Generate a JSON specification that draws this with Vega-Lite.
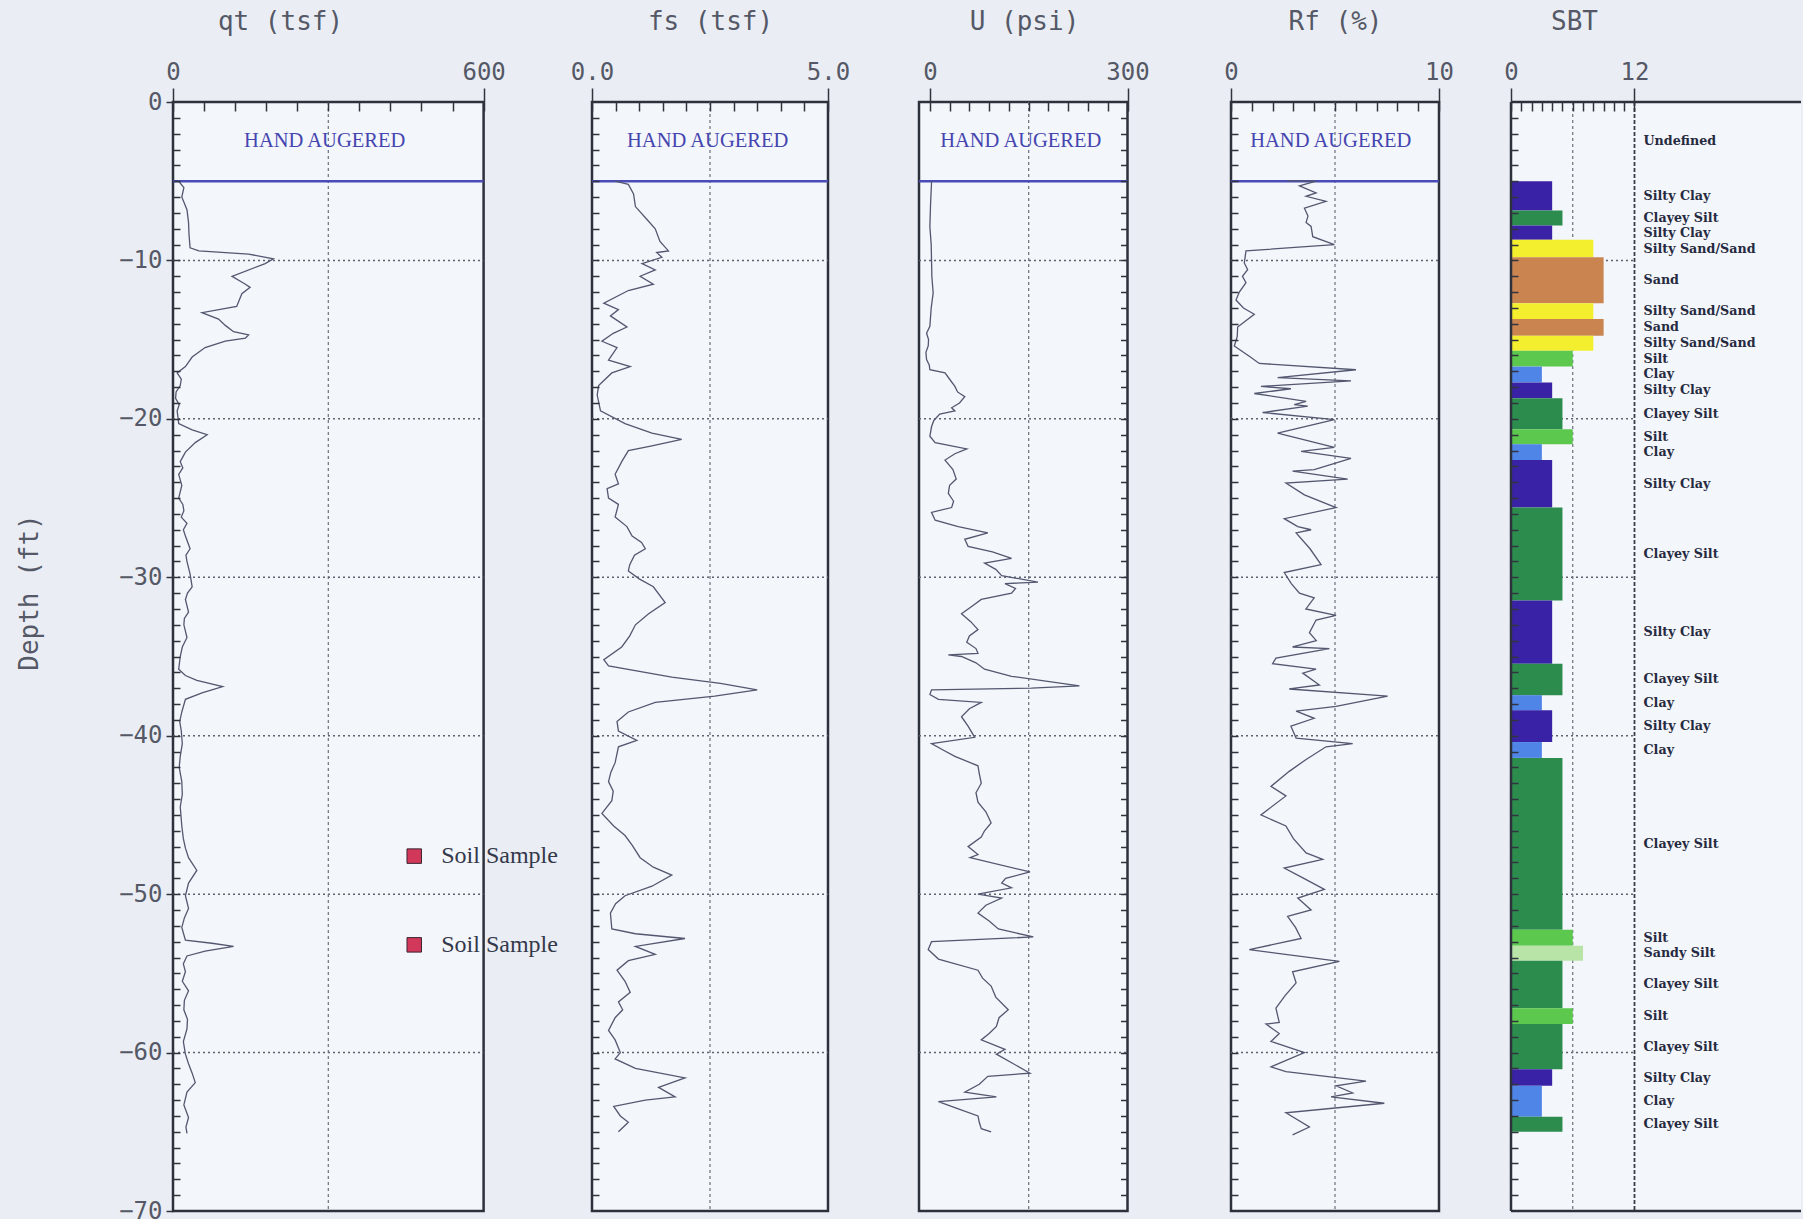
{
"$schema": "https://vega.github.io/schema/vega-lite/v6.json",
"background": "#eaeef4",
"padding": {"left": 16, "top": 8, "right": 0, "bottom": -4},
"datasets": {
"grid": [{"d": -10}, {"d": -20}, {"d": -30}, {"d": -40}, {"d": -50}, {"d": -60}],
"samples": [{"v": 466, "d": -47.6, "label": "Soil Sample"}, {"v": 466, "d": -53.2, "label": "Soil Sample"}],
"qt": [{"d":-5.0,"v":11},{"d":-5.4,"v":21},{"d":-6.0,"v":17},{"d":-6.8,"v":27},{"d":-7.6,"v":30},{"d":-8.4,"v":31},{"d":-9.2,"v":33},{"d":-9.4,"v":50},{"d":-9.6,"v":146},{"d":-9.9,"v":194},{"d":-10.2,"v":178},{"d":-11.0,"v":114},{"d":-11.5,"v":140},{"d":-11.7,"v":149},{"d":-12.1,"v":133},{"d":-12.9,"v":123},{"d":-13.3,"v":56},{"d":-13.7,"v":88},{"d":-14.1,"v":101},{"d":-14.5,"v":117},{"d":-14.7,"v":146},{"d":-14.9,"v":140},{"d":-15.1,"v":101},{"d":-15.5,"v":62},{"d":-16.1,"v":37},{"d":-16.7,"v":24},{"d":-17.1,"v":8},{"d":-17.5,"v":16},{"d":-17.9,"v":14},{"d":-18.3,"v":6},{"d":-18.7,"v":5},{"d":-19.1,"v":12},{"d":-19.5,"v":8},{"d":-20.3,"v":11},{"d":-20.7,"v":37},{"d":-21.0,"v":66},{"d":-21.5,"v":43},{"d":-22.1,"v":24},{"d":-22.7,"v":14},{"d":-23.1,"v":19},{"d":-23.5,"v":11},{"d":-24.2,"v":17},{"d":-25.0,"v":11},{"d":-25.4,"v":19},{"d":-25.8,"v":21},{"d":-26.2,"v":16},{"d":-26.6,"v":27},{"d":-27.0,"v":20},{"d":-27.4,"v":24},{"d":-28.2,"v":33},{"d":-28.6,"v":25},{"d":-29.0,"v":27},{"d":-29.8,"v":33},{"d":-30.6,"v":37},{"d":-31.0,"v":28},{"d":-31.4,"v":24},{"d":-32.2,"v":30},{"d":-32.6,"v":22},{"d":-33.0,"v":21},{"d":-33.8,"v":27},{"d":-34.4,"v":18},{"d":-35.0,"v":14},{"d":-35.8,"v":11},{"d":-36.2,"v":24},{"d":-36.5,"v":46},{"d":-36.9,"v":96},{"d":-37.3,"v":56},{"d":-37.7,"v":24},{"d":-38.5,"v":17},{"d":-39.1,"v":13},{"d":-39.7,"v":16},{"d":-40.5,"v":18},{"d":-41.3,"v":14},{"d":-42.0,"v":12},{"d":-42.9,"v":17},{"d":-43.7,"v":18},{"d":-44.5,"v":14},{"d":-45.7,"v":17},{"d":-46.5,"v":20},{"d":-47.1,"v":24},{"d":-47.7,"v":30},{"d":-48.5,"v":46},{"d":-49.3,"v":30},{"d":-50.1,"v":24},{"d":-50.9,"v":30},{"d":-51.5,"v":22},{"d":-52.1,"v":17},{"d":-52.9,"v":24},{"d":-53.1,"v":75},{"d":-53.3,"v":117},{"d":-53.6,"v":62},{"d":-53.9,"v":27},{"d":-54.4,"v":20},{"d":-54.9,"v":24},{"d":-55.5,"v":18},{"d":-56.1,"v":30},{"d":-56.7,"v":22},{"d":-57.3,"v":21},{"d":-57.9,"v":28},{"d":-58.5,"v":27},{"d":-59.3,"v":20},{"d":-60.1,"v":24},{"d":-60.7,"v":30},{"d":-61.3,"v":37},{"d":-61.9,"v":43},{"d":-62.5,"v":27},{"d":-63.3,"v":21},{"d":-64.1,"v":30},{"d":-64.7,"v":25},{"d":-65.1,"v":27}],
"fs": [{"d":-5.0,"v":0.49},{"d":-5.2,"v":0.77},{"d":-5.8,"v":0.88},{"d":-6.6,"v":0.92},{"d":-7.4,"v":1.16},{"d":-8.0,"v":1.34},{"d":-8.8,"v":1.44},{"d":-9.4,"v":1.62},{"d":-9.5,"v":1.37},{"d":-9.8,"v":1.48},{"d":-10.2,"v":1.06},{"d":-10.6,"v":1.34},{"d":-11.0,"v":1.02},{"d":-11.5,"v":1.30},{"d":-11.9,"v":0.77},{"d":-12.7,"v":0.25},{"d":-13.1,"v":0.56},{"d":-13.5,"v":0.39},{"d":-14.2,"v":0.74},{"d":-14.6,"v":0.45},{"d":-15.1,"v":0.21},{"d":-15.5,"v":0.53},{"d":-16.3,"v":0.35},{"d":-16.7,"v":0.81},{"d":-17.1,"v":0.42},{"d":-17.9,"v":0.14},{"d":-18.5,"v":0.11},{"d":-19.5,"v":0.18},{"d":-20.3,"v":0.70},{"d":-20.9,"v":1.27},{"d":-21.3,"v":1.90},{"d":-21.7,"v":1.27},{"d":-22.0,"v":0.77},{"d":-22.7,"v":0.63},{"d":-23.5,"v":0.49},{"d":-24.1,"v":0.56},{"d":-24.4,"v":0.32},{"d":-25.0,"v":0.35},{"d":-25.4,"v":0.56},{"d":-26.2,"v":0.49},{"d":-26.8,"v":0.74},{"d":-27.4,"v":0.85},{"d":-27.8,"v":1.05},{"d":-28.2,"v":1.13},{"d":-28.6,"v":0.90},{"d":-29.2,"v":0.80},{"d":-29.6,"v":0.77},{"d":-30.1,"v":1.00},{"d":-30.6,"v":1.30},{"d":-31.6,"v":1.55},{"d":-32.3,"v":1.20},{"d":-33.0,"v":0.92},{"d":-33.7,"v":0.80},{"d":-34.4,"v":0.63},{"d":-35.2,"v":0.25},{"d":-35.6,"v":0.35},{"d":-36.3,"v":1.69},{"d":-36.7,"v":2.72},{"d":-37.1,"v":3.50},{"d":-37.5,"v":2.60},{"d":-37.9,"v":1.34},{"d":-38.5,"v":0.77},{"d":-39.1,"v":0.53},{"d":-39.7,"v":0.56},{"d":-40.3,"v":0.95},{"d":-40.7,"v":0.56},{"d":-41.7,"v":0.49},{"d":-42.3,"v":0.40},{"d":-42.9,"v":0.35},{"d":-43.5,"v":0.45},{"d":-44.1,"v":0.42},{"d":-44.9,"v":0.21},{"d":-45.7,"v":0.46},{"d":-46.3,"v":0.70},{"d":-46.9,"v":0.85},{"d":-47.7,"v":1.02},{"d":-48.3,"v":1.30},{"d":-48.8,"v":1.69},{"d":-49.5,"v":1.27},{"d":-50.1,"v":0.70},{"d":-50.6,"v":0.50},{"d":-51.2,"v":0.39},{"d":-52.2,"v":0.42},{"d":-52.5,"v":0.92},{"d":-52.8,"v":1.97},{"d":-53.3,"v":0.92},{"d":-53.8,"v":1.34},{"d":-54.2,"v":0.77},{"d":-54.8,"v":0.53},{"d":-55.5,"v":0.70},{"d":-56.2,"v":0.81},{"d":-56.8,"v":0.56},{"d":-57.3,"v":0.65},{"d":-57.8,"v":0.49},{"d":-58.6,"v":0.35},{"d":-59.2,"v":0.49},{"d":-60.0,"v":0.60},{"d":-60.4,"v":0.49},{"d":-61.0,"v":0.92},{"d":-61.6,"v":1.97},{"d":-62.2,"v":1.41},{"d":-62.8,"v":1.76},{"d":-63.0,"v":1.13},{"d":-63.4,"v":0.46},{"d":-64.0,"v":0.60},{"d":-64.4,"v":0.77},{"d":-65.0,"v":0.56}],
"u": [{"d":-5.0,"v":2},{"d":-5.1,"v":2.5},{"d":-6.5,"v":1},{"d":-7.85,"v":0},{"d":-9.0,"v":2},{"d":-9.95,"v":2.5},{"d":-11.0,"v":3},{"d":-12.05,"v":5},{"d":-13.0,"v":2},{"d":-14.16,"v":0},{"d":-14.6,"v":-5},{"d":-15.0,"v":-2},{"d":-15.4,"v":-2.5},{"d":-15.8,"v":-6},{"d":-16.26,"v":-5},{"d":-16.6,"v":-1},{"d":-16.9,"v":0},{"d":-17.1,"v":23},{"d":-17.5,"v":30},{"d":-17.95,"v":38},{"d":-18.3,"v":42},{"d":-18.6,"v":53},{"d":-19.0,"v":45},{"d":-19.3,"v":33},{"d":-19.5,"v":38},{"d":-19.7,"v":15},{"d":-20.1,"v":6},{"d":-20.5,"v":2.5},{"d":-21.1,"v":0},{"d":-21.5,"v":8},{"d":-21.9,"v":56},{"d":-22.2,"v":38},{"d":-22.6,"v":23},{"d":-23.2,"v":35},{"d":-23.8,"v":40},{"d":-24.2,"v":30},{"d":-24.7,"v":28},{"d":-25.2,"v":36},{"d":-25.6,"v":33},{"d":-25.9,"v":2.5},{"d":-26.4,"v":8},{"d":-26.8,"v":43},{"d":-27.2,"v":88},{"d":-27.6,"v":53},{"d":-28.05,"v":58},{"d":-28.4,"v":95},{"d":-28.8,"v":124},{"d":-29.1,"v":83},{"d":-29.5,"v":100},{"d":-29.9,"v":109},{"d":-30.3,"v":164},{"d":-30.4,"v":114},{"d":-30.7,"v":130},{"d":-31.0,"v":124},{"d":-31.4,"v":78},{"d":-31.8,"v":65},{"d":-32.3,"v":48},{"d":-32.8,"v":62},{"d":-33.3,"v":73},{"d":-33.7,"v":60},{"d":-34.1,"v":56},{"d":-34.5,"v":70},{"d":-34.8,"v":73},{"d":-34.9,"v":28},{"d":-35.0,"v":48},{"d":-35.4,"v":70},{"d":-35.8,"v":83},{"d":-36.25,"v":124},{"d":-36.85,"v":227},{"d":-37.0,"v":154},{"d":-37.1,"v":2.5},{"d":-37.4,"v":0},{"d":-37.7,"v":13},{"d":-37.9,"v":78},{"d":-38.3,"v":60},{"d":-38.8,"v":48},{"d":-39.4,"v":58},{"d":-40.1,"v":68},{"d":-40.5,"v":2.5},{"d":-40.9,"v":20},{"d":-41.3,"v":38},{"d":-41.9,"v":73},{"d":-42.4,"v":75},{"d":-43.0,"v":78},{"d":-43.6,"v":70},{"d":-44.2,"v":73},{"d":-44.8,"v":85},{"d":-45.5,"v":93},{"d":-46.0,"v":83},{"d":-46.4,"v":78},{"d":-47.0,"v":58},{"d":-47.5,"v":73},{"d":-47.7,"v":61},{"d":-48.6,"v":152},{"d":-49.0,"v":115},{"d":-49.3,"v":109},{"d":-49.6,"v":124},{"d":-50.0,"v":73},{"d":-50.25,"v":109},{"d":-50.7,"v":85},{"d":-51.2,"v":73},{"d":-51.7,"v":90},{"d":-52.2,"v":104},{"d":-52.7,"v":157},{"d":-53.0,"v":2.5},{"d":-53.5,"v":-2.5},{"d":-54.1,"v":13},{"d":-54.8,"v":73},{"d":-55.3,"v":80},{"d":-55.8,"v":93},{"d":-56.5,"v":100},{"d":-57.3,"v":119},{"d":-57.8,"v":105},{"d":-58.35,"v":101},{"d":-58.8,"v":90},{"d":-59.2,"v":78},{"d":-59.8,"v":114},{"d":-60.1,"v":101},{"d":-61.3,"v":152},{"d":-61.5,"v":88},{"d":-62.0,"v":75},{"d":-62.5,"v":53},{"d":-62.8,"v":101},{"d":-63.1,"v":13},{"d":-63.5,"v":40},{"d":-64.0,"v":73},{"d":-64.4,"v":75},{"d":-64.8,"v":78},{"d":-65.0,"v":93}],
"rf": [{"d":-4.98,"v":2.7},{"d":-5.0,"v":4.09},{"d":-5.3,"v":3.29},{"d":-5.74,"v":4.09},{"d":-5.95,"v":3.61},{"d":-6.27,"v":4.57},{"d":-6.7,"v":3.53},{"d":-7.2,"v":3.7},{"d":-7.6,"v":3.61},{"d":-7.85,"v":3.85},{"d":-8.5,"v":3.93},{"d":-9.0,"v":4.97},{"d":-9.4,"v":0.72},{"d":-10.16,"v":0.64},{"d":-10.58,"v":0.80},{"d":-11.0,"v":0.55},{"d":-11.4,"v":0.72},{"d":-12.0,"v":0.4},{"d":-12.5,"v":0.24},{"d":-13.0,"v":0.6},{"d":-13.4,"v":1.12},{"d":-14.2,"v":0.32},{"d":-14.8,"v":0.3},{"d":-15.4,"v":0.16},{"d":-16.05,"v":0.88},{"d":-16.5,"v":1.36},{"d":-16.9,"v":6.01},{"d":-17.4,"v":2.24},{"d":-17.6,"v":5.77},{"d":-17.95,"v":1.44},{"d":-18.1,"v":2.88},{"d":-18.4,"v":1.12},{"d":-18.9,"v":3.61},{"d":-19.1,"v":3.04},{"d":-19.2,"v":3.69},{"d":-19.6,"v":1.52},{"d":-20.05,"v":4.97},{"d":-20.9,"v":2.24},{"d":-21.8,"v":4.97},{"d":-22.05,"v":3.37},{"d":-22.5,"v":5.77},{"d":-23.2,"v":4.0},{"d":-23.3,"v":2.96},{"d":-23.8,"v":5.61},{"d":-24.05,"v":2.64},{"d":-24.8,"v":3.53},{"d":-25.6,"v":5.05},{"d":-26.3,"v":2.56},{"d":-26.8,"v":3.21},{"d":-27.0,"v":3.85},{"d":-27.2,"v":3.13},{"d":-28.2,"v":3.8},{"d":-29.2,"v":4.33},{"d":-29.7,"v":2.56},{"d":-30.4,"v":2.9},{"d":-31.0,"v":3.29},{"d":-31.3,"v":4.0},{"d":-32.0,"v":3.6},{"d":-32.4,"v":5.05},{"d":-32.7,"v":4.09},{"d":-33.5,"v":3.77},{"d":-34.0,"v":4.1},{"d":-34.4,"v":2.96},{"d":-34.5,"v":4.73},{"d":-35.1,"v":2.16},{"d":-35.45,"v":2.0},{"d":-35.8,"v":4.09},{"d":-36.05,"v":3.45},{"d":-36.8,"v":4.25},{"d":-37.05,"v":2.80},{"d":-37.5,"v":7.53},{"d":-38.15,"v":5.05},{"d":-38.45,"v":3.13},{"d":-38.9,"v":4.0},{"d":-39.4,"v":2.88},{"d":-40.15,"v":3.13},{"d":-40.5,"v":5.85},{"d":-40.7,"v":4.57},{"d":-41.5,"v":3.61},{"d":-42.25,"v":2.80},{"d":-43.2,"v":1.92},{"d":-43.8,"v":2.64},{"d":-45.0,"v":1.44},{"d":-45.7,"v":2.64},{"d":-46.5,"v":3.0},{"d":-47.4,"v":3.61},{"d":-47.8,"v":4.41},{"d":-48.35,"v":2.56},{"d":-49.0,"v":3.5},{"d":-49.7,"v":4.49},{"d":-50.25,"v":3.21},{"d":-51.0,"v":3.85},{"d":-51.4,"v":2.72},{"d":-52.1,"v":3.1},{"d":-52.8,"v":3.37},{"d":-53.5,"v":0.88},{"d":-54.25,"v":5.21},{"d":-54.9,"v":2.96},{"d":-55.6,"v":3.13},{"d":-56.4,"v":2.6},{"d":-57.2,"v":2.16},{"d":-58.1,"v":2.32},{"d":-58.2,"v":1.68},{"d":-58.8,"v":2.32},{"d":-59.3,"v":1.92},{"d":-60.0,"v":3.53},{"d":-60.9,"v":1.92},{"d":-61.2,"v":2.64},{"d":-61.8,"v":6.49},{"d":-62.1,"v":5.05},{"d":-62.55,"v":5.85},{"d":-62.8,"v":4.81},{"d":-63.2,"v":7.37},{"d":-63.8,"v":2.64},{"d":-64.7,"v":3.77},{"d":-65.2,"v":2.96}],
"sbt": [{"name":"Undefined","zone":0,"top":0,"bottom":-5,"mid":-2.45},{"name":"Silty Clay","zone":4,"top":-5.0,"bottom":-6.85,"mid":-5.93},{"name":"Clayey Silt","zone":5,"top":-6.85,"bottom":-7.8,"mid":-7.33},{"name":"Silty Clay","zone":4,"top":-7.8,"bottom":-8.7,"mid":-8.3},{"name":"Silty Sand/Sand","zone":8,"top":-8.7,"bottom":-9.8,"mid":-9.28},{"name":"Sand","zone":9,"top":-9.8,"bottom":-12.7,"mid":-11.25},{"name":"Silty Sand/Sand","zone":8,"top":-12.7,"bottom":-13.7,"mid":-13.2},{"name":"Sand","zone":9,"top":-13.7,"bottom":-14.75,"mid":-14.23},{"name":"Silty Sand/Sand","zone":8,"top":-14.75,"bottom":-15.7,"mid":-15.23},{"name":"Silt","zone":6,"top":-15.7,"bottom":-16.7,"mid":-16.2},{"name":"Clay","zone":3,"top":-16.7,"bottom":-17.7,"mid":-17.2},{"name":"Silty Clay","zone":4,"top":-17.7,"bottom":-18.7,"mid":-18.2},{"name":"Clayey Silt","zone":5,"top":-18.7,"bottom":-20.65,"mid":-19.68},{"name":"Silt","zone":6,"top":-20.65,"bottom":-21.6,"mid":-21.13},{"name":"Clay","zone":3,"top":-21.6,"bottom":-22.6,"mid":-22.1},{"name":"Silty Clay","zone":4,"top":-22.6,"bottom":-25.6,"mid":-24.1},{"name":"Clayey Silt","zone":5,"top":-25.6,"bottom":-31.47,"mid":-28.54},{"name":"Silty Clay","zone":4,"top":-31.47,"bottom":-35.45,"mid":-33.46},{"name":"Clayey Silt","zone":5,"top":-35.45,"bottom":-37.44,"mid":-36.45},{"name":"Clay","zone":3,"top":-37.44,"bottom":-38.4,"mid":-37.92},{"name":"Silty Clay","zone":4,"top":-38.4,"bottom":-40.4,"mid":-39.4},{"name":"Clay","zone":3,"top":-40.4,"bottom":-41.4,"mid":-40.9},{"name":"Clayey Silt","zone":5,"top":-41.4,"bottom":-52.25,"mid":-46.83},{"name":"Silt","zone":6,"top":-52.25,"bottom":-53.25,"mid":-52.75},{"name":"Sandy Silt","zone":7,"top":-53.25,"bottom":-54.2,"mid":-53.73},{"name":"Clayey Silt","zone":5,"top":-54.2,"bottom":-57.2,"mid":-55.7},{"name":"Silt","zone":6,"top":-57.2,"bottom":-58.2,"mid":-57.7},{"name":"Clayey Silt","zone":5,"top":-58.2,"bottom":-61.05,"mid":-59.63},{"name":"Silty Clay","zone":4,"top":-61.05,"bottom":-62.1,"mid":-61.58},{"name":"Clay","zone":3,"top":-62.1,"bottom":-64.05,"mid":-63.08},{"name":"Clayey Silt","zone":5,"top":-64.05,"bottom":-65.0,"mid":-64.53}]
},
"spacing": 0,
"bounds": "flush",
"hconcat": [
{
"width": 419, "height": 1109,
"resolve": {"axis": {"x": "independent", "y": "independent"}},
"layer": [
{"data": {"values": [{}]},
 "mark": {"type": "rect", "fill": "#f3f6fa", "stroke": "#2d313c", "strokeWidth": 2.5},
 "encoding": {
  "x": {"datum": 0, "type": "quantitative", "scale": {"domain": [0, 809.4], "nice": false, "zero": false},
        "axis": {"orient": "top", "title": "qt (tsf)", "titleX": 107, "titleY": -81, "titleBaseline": "middle", "titleAlign": "center", "values": [0, 600], "tickSize": 14, "labelPadding": 4, "zindex": 1}},
  "x2": {"datum": 600},
  "y": {"datum": 0, "type": "quantitative", "scale": {"domain": [-70, 0], "nice": false, "zero": false},
        "axis": {"orient": "left", "title": "Depth (ft)", "titleX": -131, "titleY": 490, "titleBaseline": "bottom", "titleAlign": "center", "values": [0, -10, -20, -30, -40, -50, -60, -70], "tickSize": 7, "labelPadding": 4, "zindex": 1}},
  "y2": {"datum": -70}
 }},
{"data": {"name": "grid"},
 "mark": {"type": "rule", "strokeDash": [2, 3], "color": "#5e6270", "strokeWidth": 1.5},
 "encoding": {
  "x": {"datum": 0, "type": "quantitative", "axis": {"orient": "top", "values": [0, 60, 120, 180, 240, 300, 360, 420, 480, 540, 600], "tickSize": -9, "labels": false, "title": null, "zindex": 1}},
  "x2": {"datum": 600},
  "y": {"field": "d", "type": "quantitative", "axis": {"orient": "left", "values": [-1,-2,-3,-4,-5,-6,-7,-8,-9,-10,-11,-12,-13,-14,-15,-16,-17,-18,-19,-20,-21,-22,-23,-24,-25,-26,-27,-28,-29,-30,-31,-32,-33,-34,-35,-36,-37,-38,-39,-40,-41,-42,-43,-44,-45,-46,-47,-48,-49,-50,-51,-52,-53,-54,-55,-56,-57,-58,-59,-60,-61,-62,-63,-64,-65,-66,-67,-68,-69], "tickSize": -7, "labels": false, "title": null, "zindex": 1}}
 }},
{"data": {"values": [{}]},
 "mark": {"type": "rule", "strokeDash": [3, 3], "color": "#6c707c", "strokeWidth": 1.2},
 "encoding": {"x": {"datum": 300, "type": "quantitative", "axis": null}, "y": {"datum": 0, "type": "quantitative", "axis": null}, "y2": {"datum": -70}}},
{"data": {"values": [{}]},
 "mark": {"type": "rule", "color": "#4b4bb6", "strokeWidth": 2.5},
 "encoding": {"x": {"datum": 0, "type": "quantitative", "axis": null}, "x2": {"datum": 600}, "y": {"datum": -5, "type": "quantitative", "axis": null}}},
{"data": {"values": [{}]},
 "mark": {"type": "text", "text": "HAND AUGERED", "font": "Liberation Serif", "fontSize": 20.5, "color": "#4545b0", "align": "center", "baseline": "middle"},
 "encoding": {"x": {"datum": 293, "type": "quantitative", "axis": null}, "y": {"datum": -2.45, "type": "quantitative", "axis": null}}},
{"data": {"name": "qt"},
 "mark": {"type": "line", "color": "#535770", "strokeWidth": 1.3},
 "encoding": {"x": {"field": "v", "type": "quantitative", "axis": null}, "y": {"field": "d", "type": "quantitative", "axis": null}, "order": {"field": "d", "sort": "descending"}}},
{"data": {"name": "samples"},
 "mark": {"type": "square", "size": 210, "filled": true, "color": "#d1385a", "stroke": "#3b2433", "strokeWidth": 1, "opacity": 1},
 "encoding": {"x": {"field": "v", "type": "quantitative", "axis": null}, "y": {"field": "d", "type": "quantitative", "axis": null}}},
{"data": {"name": "samples"},
 "mark": {"type": "text", "align": "left", "baseline": "middle", "dx": 27, "font": "Liberation Serif", "fontSize": 24, "color": "#33384a"},
 "encoding": {"x": {"field": "v", "type": "quantitative", "axis": null}, "y": {"field": "d", "type": "quantitative", "axis": null}, "text": {"field": "label"}}}
]
},
{
"width": 327, "height": 1109,
"resolve": {"axis": {"x": "independent", "y": "independent"}},
"layer": [
{"data": {"values": [{}]},
 "mark": {"type": "rect", "fill": "#f3f6fa", "stroke": "#2d313c", "strokeWidth": 2.5},
 "encoding": {
  "x": {"datum": 0, "type": "quantitative", "scale": {"domain": [0, 6.928], "nice": false, "zero": false},
        "axis": {"orient": "top", "title": "fs (tsf)", "titleX": 118, "titleY": -81, "titleBaseline": "middle", "titleAlign": "center", "values": [0, 5], "format": ".1f", "tickSize": 14, "labelPadding": 4, "zindex": 1}},
  "x2": {"datum": 5},
  "y": {"datum": 0, "type": "quantitative", "scale": {"domain": [-70, 0], "nice": false, "zero": false}, "axis": null},
  "y2": {"datum": -70}
 }},
{"data": {"name": "grid"},
 "mark": {"type": "rule", "strokeDash": [2, 3], "color": "#5e6270", "strokeWidth": 1.5},
 "encoding": {
  "x": {"datum": 0, "type": "quantitative", "axis": {"orient": "top", "values": [0, 0.5, 1, 1.5, 2, 2.5, 3, 3.5, 4, 4.5, 5], "tickSize": -9, "labels": false, "title": null, "zindex": 1}},
  "x2": {"datum": 5},
  "y": {"field": "d", "type": "quantitative", "axis": {"orient": "left", "values": [-1,-2,-3,-4,-5,-6,-7,-8,-9,-10,-11,-12,-13,-14,-15,-16,-17,-18,-19,-20,-21,-22,-23,-24,-25,-26,-27,-28,-29,-30,-31,-32,-33,-34,-35,-36,-37,-38,-39,-40,-41,-42,-43,-44,-45,-46,-47,-48,-49,-50,-51,-52,-53,-54,-55,-56,-57,-58,-59,-60,-61,-62,-63,-64,-65,-66,-67,-68,-69], "tickSize": -7, "labels": false, "title": null, "zindex": 1}}
 }},
{"data": {"values": [{}]},
 "mark": {"type": "rule", "strokeDash": [3, 3], "color": "#6c707c", "strokeWidth": 1.2},
 "encoding": {"x": {"datum": 2.5, "type": "quantitative", "axis": null}, "y": {"datum": 0, "type": "quantitative", "axis": null}, "y2": {"datum": -70}}},
{"data": {"values": [{}]},
 "mark": {"type": "rule", "color": "#4b4bb6", "strokeWidth": 2.5},
 "encoding": {"x": {"datum": 0, "type": "quantitative", "axis": null}, "x2": {"datum": 5}, "y": {"datum": -5, "type": "quantitative", "axis": null}}},
{"data": {"values": [{}]},
 "mark": {"type": "text", "text": "HAND AUGERED", "font": "Liberation Serif", "fontSize": 20.5, "color": "#4545b0", "align": "center", "baseline": "middle"},
 "encoding": {"x": {"datum": 2.45, "type": "quantitative", "axis": null}, "y": {"datum": -2.45, "type": "quantitative", "axis": null}}},
{"data": {"name": "fs"},
 "mark": {"type": "line", "color": "#535770", "strokeWidth": 1.3},
 "encoding": {"x": {"field": "v", "type": "quantitative", "axis": null}, "y": {"field": "d", "type": "quantitative", "axis": null}, "order": {"field": "d", "sort": "descending"}}}
]
},
{
"width": 312, "height": 1109,
"resolve": {"axis": {"x": "independent", "y": "independent"}},
"layer": [
{"data": {"values": [{}]},
 "mark": {"type": "rect", "fill": "#f3f6fa", "stroke": "#2d313c", "strokeWidth": 2.5},
 "encoding": {
  "x": {"datum": -16.5, "type": "quantitative", "scale": {"domain": [-16.5, 457.1], "nice": false, "zero": false},
        "axis": {"orient": "top", "title": "U (psi)", "titleX": 105, "titleY": -81, "titleBaseline": "middle", "titleAlign": "center", "values": [0, 300], "tickSize": 14, "labelPadding": 4, "zindex": 1}},
  "x2": {"datum": 300},
  "y": {"datum": 0, "type": "quantitative", "scale": {"domain": [-70, 0], "nice": false, "zero": false}, "axis": null},
  "y2": {"datum": -70}
 }},
{"data": {"name": "grid"},
 "mark": {"type": "rule", "strokeDash": [2, 3], "color": "#5e6270", "strokeWidth": 1.5},
 "encoding": {
  "x": {"datum": -16.5, "type": "quantitative", "axis": {"orient": "top", "values": [0, 30, 60, 90, 120, 150, 180, 210, 240, 270, 300], "tickSize": -9, "labels": false, "title": null, "zindex": 1}},
  "x2": {"datum": 300},
  "y": {"field": "d", "type": "quantitative", "axis": {"orient": "right", "offset": -103.5, "values": [-1,-2,-3,-4,-5,-6,-7,-8,-9,-10,-11,-12,-13,-14,-15,-16,-17,-18,-19,-20,-21,-22,-23,-24,-25,-26,-27,-28,-29,-30,-31,-32,-33,-34,-35,-36,-37,-38,-39,-40,-41,-42,-43,-44,-45,-46,-47,-48,-49,-50,-51,-52,-53,-54,-55,-56,-57,-58,-59,-60,-61,-62,-63,-64,-65,-66,-67,-68,-69], "tickSize": -7, "labels": false, "title": null, "zindex": 1}}
 }},
{"data": {"values": [{}]},
 "mark": {"type": "rule", "strokeDash": [3, 3], "color": "#6c707c", "strokeWidth": 1.2},
 "encoding": {"x": {"datum": 150, "type": "quantitative", "axis": null}, "y": {"datum": 0, "type": "quantitative", "axis": null}, "y2": {"datum": -70}}},
{"data": {"values": [{}]},
 "mark": {"type": "rule", "color": "#4b4bb6", "strokeWidth": 2.5},
 "encoding": {"x": {"datum": -16.5, "type": "quantitative", "axis": null}, "x2": {"datum": 300}, "y": {"datum": -5, "type": "quantitative", "axis": null}}},
{"data": {"values": [{}]},
 "mark": {"type": "text", "text": "HAND AUGERED", "font": "Liberation Serif", "fontSize": 20.5, "color": "#4545b0", "align": "center", "baseline": "middle"},
 "encoding": {"x": {"datum": 138, "type": "quantitative", "axis": null}, "y": {"datum": -2.45, "type": "quantitative", "axis": null}}},
{"data": {"name": "u"},
 "mark": {"type": "line", "color": "#535770", "strokeWidth": 1.3},
 "encoding": {"x": {"field": "v", "type": "quantitative", "axis": null}, "y": {"field": "d", "type": "quantitative", "axis": null}, "order": {"field": "d", "sort": "descending"}}}
]
},
{
"width": 280, "height": 1109,
"resolve": {"axis": {"x": "independent", "y": "independent"}},
"layer": [
{"data": {"values": [{}]},
 "mark": {"type": "rect", "fill": "#f3f6fa", "stroke": "#2d313c", "strokeWidth": 2.5},
 "encoding": {
  "x": {"datum": 0, "type": "quantitative", "scale": {"domain": [0, 13.4615], "nice": false, "zero": false},
        "axis": {"orient": "top", "title": "Rf (%)", "titleX": 104, "titleY": -81, "titleBaseline": "middle", "titleAlign": "center", "values": [0, 10], "tickSize": 14, "labelPadding": 4, "zindex": 1}},
  "x2": {"datum": 10},
  "y": {"datum": 0, "type": "quantitative", "scale": {"domain": [-70, 0], "nice": false, "zero": false}, "axis": null},
  "y2": {"datum": -70}
 }},
{"data": {"name": "grid"},
 "mark": {"type": "rule", "strokeDash": [2, 3], "color": "#5e6270", "strokeWidth": 1.5},
 "encoding": {
  "x": {"datum": 0, "type": "quantitative", "axis": {"orient": "top", "values": [0, 1, 2, 3, 4, 5, 6, 7, 8, 9, 10], "tickSize": -9, "labels": false, "title": null, "zindex": 1}},
  "x2": {"datum": 10},
  "y": {"field": "d", "type": "quantitative", "axis": {"orient": "left", "values": [-1,-2,-3,-4,-5,-6,-7,-8,-9,-10,-11,-12,-13,-14,-15,-16,-17,-18,-19,-20,-21,-22,-23,-24,-25,-26,-27,-28,-29,-30,-31,-32,-33,-34,-35,-36,-37,-38,-39,-40,-41,-42,-43,-44,-45,-46,-47,-48,-49,-50,-51,-52,-53,-54,-55,-56,-57,-58,-59,-60,-61,-62,-63,-64,-65,-66,-67,-68,-69], "tickSize": -7, "labels": false, "title": null, "zindex": 1}}
 }},
{"data": {"values": [{}]},
 "mark": {"type": "rule", "strokeDash": [3, 3], "color": "#6c707c", "strokeWidth": 1.2},
 "encoding": {"x": {"datum": 5, "type": "quantitative", "axis": null}, "y": {"datum": 0, "type": "quantitative", "axis": null}, "y2": {"datum": -70}}},
{"data": {"values": [{}]},
 "mark": {"type": "rule", "color": "#4b4bb6", "strokeWidth": 2.5},
 "encoding": {"x": {"datum": 0, "type": "quantitative", "axis": null}, "x2": {"datum": 10}, "y": {"datum": -5, "type": "quantitative", "axis": null}}},
{"data": {"values": [{}]},
 "mark": {"type": "text", "text": "HAND AUGERED", "font": "Liberation Serif", "fontSize": 20.5, "color": "#4545b0", "align": "center", "baseline": "middle"},
 "encoding": {"x": {"datum": 4.8, "type": "quantitative", "axis": null}, "y": {"datum": -2.45, "type": "quantitative", "axis": null}}},
{"data": {"name": "rf"},
 "mark": {"type": "line", "color": "#535770", "strokeWidth": 1.3},
 "encoding": {"x": {"field": "v", "type": "quantitative", "axis": null}, "y": {"field": "d", "type": "quantitative", "axis": null}, "order": {"field": "d", "sort": "descending"}}}
]
},
{
"width": 290, "height": 1109,
"resolve": {"axis": {"x": "independent", "y": "independent"}},
"layer": [
{"data": {"values": [{}]},
 "mark": {"type": "rect", "fill": "#f3f6fa"},
 "encoding": {
  "x": {"datum": 0, "type": "quantitative", "scale": {"domain": [0, 28.18], "nice": false, "zero": false},
        "axis": {"orient": "top", "title": "SBT", "titleX": 63, "titleY": -81, "titleBaseline": "middle", "titleAlign": "center", "values": [0, 12], "tickSize": 14, "labelPadding": 4, "zindex": 1}},
  "x2": {"datum": 28.18},
  "y": {"datum": 0, "type": "quantitative", "scale": {"domain": [-70, 0], "nice": false, "zero": false}, "axis": null},
  "y2": {"datum": -70}
 }},
{"data": {"name": "grid"},
 "mark": {"type": "rule", "strokeDash": [2, 3], "color": "#5e6270", "strokeWidth": 1.5},
 "encoding": {
  "x": {"datum": 0, "type": "quantitative", "axis": {"orient": "top", "values": [0, 1, 2, 3, 4, 5, 6, 7, 8, 9, 10, 11, 12], "tickSize": -9, "labels": false, "title": null, "zindex": 1}},
  "x2": {"datum": 12},
  "y": {"field": "d", "type": "quantitative", "axis": {"orient": "left", "values": [-1,-2,-3,-4,-5,-6,-7,-8,-9,-10,-11,-12,-13,-14,-15,-16,-17,-18,-19,-20,-21,-22,-23,-24,-25,-26,-27,-28,-29,-30,-31,-32,-33,-34,-35,-36,-37,-38,-39,-40,-41,-42,-43,-44,-45,-46,-47,-48,-49,-50,-51,-52,-53,-54,-55,-56,-57,-58,-59,-60,-61,-62,-63,-64,-65,-66,-67,-68,-69], "tickSize": -7, "labels": false, "title": null, "zindex": 1}}
 }},
{"data": {"values": [{}]},
 "mark": {"type": "rule", "strokeDash": [3, 3], "color": "#6c707c", "strokeWidth": 1.2},
 "encoding": {"x": {"datum": 6, "type": "quantitative", "axis": null}, "y": {"datum": 0, "type": "quantitative", "axis": null}, "y2": {"datum": -70}}},
{"data": {"values": [{}]},
 "mark": {"type": "rule", "strokeDash": [4, 2], "color": "#3a3e4a", "strokeWidth": 1.8},
 "encoding": {"x": {"datum": 12, "type": "quantitative", "axis": null}, "y": {"datum": 0, "type": "quantitative", "axis": null}, "y2": {"datum": -70}}},
{"data": {"name": "sbt"},
 "mark": {"type": "rect"},
 "encoding": {
  "x": {"field": "zone", "type": "quantitative", "axis": null},
  "x2": {"datum": 0},
  "y": {"field": "top", "type": "quantitative", "axis": null},
  "y2": {"field": "bottom"},
  "color": {"field": "name", "type": "nominal", "legend": null,
    "scale": {"domain": ["Undefined", "Silty Clay", "Clayey Silt", "Silty Sand/Sand", "Sand", "Silt", "Clay", "Sandy Silt"],
              "range": ["#f3f6fa", "#3a22a6", "#2c8c4e", "#f4ef2e", "#c98450", "#5cc84e", "#4f85e6", "#b9e4a8"]}}
 }},
{"data": {"values": [{}]},
 "mark": {"type": "rule", "color": "#2d313c", "strokeWidth": 2.5},
 "encoding": {"x": {"datum": 0, "type": "quantitative", "axis": null}, "x2": {"datum": 28.18}, "y": {"datum": 0, "type": "quantitative", "axis": null}}},
{"data": {"values": [{}]},
 "mark": {"type": "rule", "color": "#2d313c", "strokeWidth": 2.5},
 "encoding": {"x": {"datum": 0, "type": "quantitative", "axis": null}, "x2": {"datum": 28.18}, "y": {"datum": -70, "type": "quantitative", "axis": null}}},
{"data": {"values": [{}]},
 "mark": {"type": "rule", "color": "#2d313c", "strokeWidth": 2.5},
 "encoding": {"x": {"datum": 0, "type": "quantitative", "axis": null}, "y": {"datum": 0, "type": "quantitative", "axis": null}, "y2": {"datum": -70}}},
{"data": {"name": "sbt"},
 "mark": {"type": "text", "align": "left", "baseline": "middle", "dx": 9, "font": "DejaVu Serif", "fontSize": 12.7, "fontWeight": 600, "color": "#262a40"},
 "encoding": {"x": {"datum": 12, "type": "quantitative", "axis": null}, "y": {"field": "mid", "type": "quantitative", "axis": null}, "text": {"field": "name"}}}
]
}
],
"config": {
 "view": {"stroke": null, "fill": null},
 "axis": {"labelFont": "DejaVu Sans Mono", "labelFontSize": 24, "labelColor": "#555866", "titleFont": "DejaVu Sans Mono", "titleFontSize": 26, "titleFontWeight": "normal", "titleColor": "#555866", "tickColor": "#30343f", "tickWidth": 1.5, "grid": false, "domain": false, "labelOverlap": false, "labelFlush": false}
}
}
